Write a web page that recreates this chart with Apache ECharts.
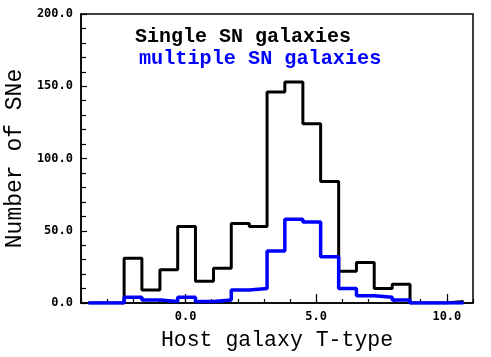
<!DOCTYPE html>
<html>
<head>
<meta charset="utf-8">
<script src="https://cdn.jsdelivr.net/npm/echarts@6/dist/echarts.min.js"></script>
<style>
  html, body { margin: 0; padding: 0; background: #fff; }
  #chart { width: 491px; height: 357px; }
</style>
</head>
<body>
<div id="chart"></div>
<script>
"use strict";

// histogram bin edges (T-type) and counts
var binEdges = [-3.72, -3.04, -2.35, -1.67, -0.98, -0.30, 0.38, 1.07, 1.75, 2.44, 3.12,
  3.80, 4.49, 5.17, 5.86, 6.54, 7.22, 7.91, 8.59, 9.28, 9.96, 10.64];
var singleCounts = [0, 0, 31, 9, 23, 53, 15, 24, 55, 53, 146, 153, 124, 84, 22, 28, 10, 13, 0, 0, 1];
var multipleCounts = [0, 0, 4, 2, 1, 4, 1, 2, 9, 10, 36, 58, 56, 32, 10, 5, 4, 2, 0, 0, 0];
var xMajorTicks = [0, 5, 10];
var xMinorTicks = [-4, -3, -2, -1, 0, 1, 2, 3, 4, 5, 6, 7, 8, 9, 10, 11];

var stepPoints = function(edges, counts) {
  var pts = [];
  for (var i = 0; i < counts.length; i++) {
    pts.push([edges[i], counts[i]]);
    pts.push([edges[i + 1], counts[i]]);
  }
  return pts;
};

var monoFont = '"Liberation Mono", "DejaVu Sans Mono", monospace';
var labelFont = '"DejaVu Sans Mono", monospace';

var chart = echarts.init(document.getElementById('chart'));

var option = {
  animation: false,
  backgroundColor: '#fff',
  grid: {
    left: 81, right: 18, top: 14, bottom: 54,
    outerBoundsMode: 'none',
    containLabel: false,
    show: true, borderColor: '#000', borderWidth: 1.5
  },
  xAxis: [{
    type: 'value',
    min: -4, max: 11, interval: 1,
    axisLine: { show: true, onZero: false, lineStyle: { color: '#000', width: 1.5 } },
    axisTick: { show: true, inside: true, length: 4, customValues: xMinorTicks, lineStyle: { color: '#000', width: 1.2 } },
    axisLabel: {
      customValues: xMajorTicks,
      margin: 8,
      color: '#000', fontFamily: labelFont, fontWeight: 'bold', fontSize: 12,
      formatter: function(v) { return v.toFixed(1); }
    },
    splitLine: { show: false },
    name: 'Host galaxy T-type',
    nameLocation: 'middle',
    nameGap: 26,
    nameTextStyle: { color: '#000', fontFamily: monoFont, fontSize: 21.5 }
  }, {
    type: 'value',
    min: -4, max: 11, interval: 1,
    position: 'bottom',
    axisLine: { show: false, onZero: false },
    axisTick: { show: true, inside: true, length: 9, customValues: xMajorTicks, lineStyle: { color: '#000', width: 1.2 } },
    axisLabel: { show: false },
    splitLine: { show: false }
  }],
  yAxis: {
    type: 'value',
    min: 0, max: 200, interval: 50,
    axisLine: { show: true, onZero: false, lineStyle: { color: '#000', width: 1.5 } },
    axisTick: { show: true, inside: true, length: 6, lineStyle: { color: '#000', width: 1.2 } },
    minorTick: { show: true, splitNumber: 5, length: 5, lineStyle: { color: '#000', width: 1.2 } },
    axisLabel: {
      margin: 8,
      color: '#000', fontFamily: labelFont, fontWeight: 'bold', fontSize: 12,
      formatter: function(v) { return v.toFixed(1); }
    },
    splitLine: { show: false },
    name: 'Number of SNe',
    nameLocation: 'middle',
    nameGap: 52,
    nameTextStyle: { color: '#000', fontFamily: monoFont, fontSize: 23 }
  },
  graphic: [{
    type: 'text', left: 135, top: 27,
    style: { text: 'Single SN galaxies', fill: '#000', font: 'bold 20px ' + monoFont }
  }, {
    type: 'text', left: 139, top: 49,
    style: { text: 'multiple SN galaxies', fill: '#0000ff', font: 'bold 20.2px ' + monoFont }
  }],
  series: [{
    name: 'Single SN galaxies',
    type: 'line',
    data: stepPoints(binEdges, singleCounts),
    showSymbol: false,
    lineStyle: { color: '#000', width: 3 },
    z: 2
  }, {
    name: 'multiple SN galaxies',
    type: 'line',
    data: stepPoints(binEdges, multipleCounts),
    showSymbol: false,
    lineStyle: { color: '#0000ff', width: 3.5 },
    z: 3
  }]
};

chart.setOption(option);
</script>
</body>
</html>
